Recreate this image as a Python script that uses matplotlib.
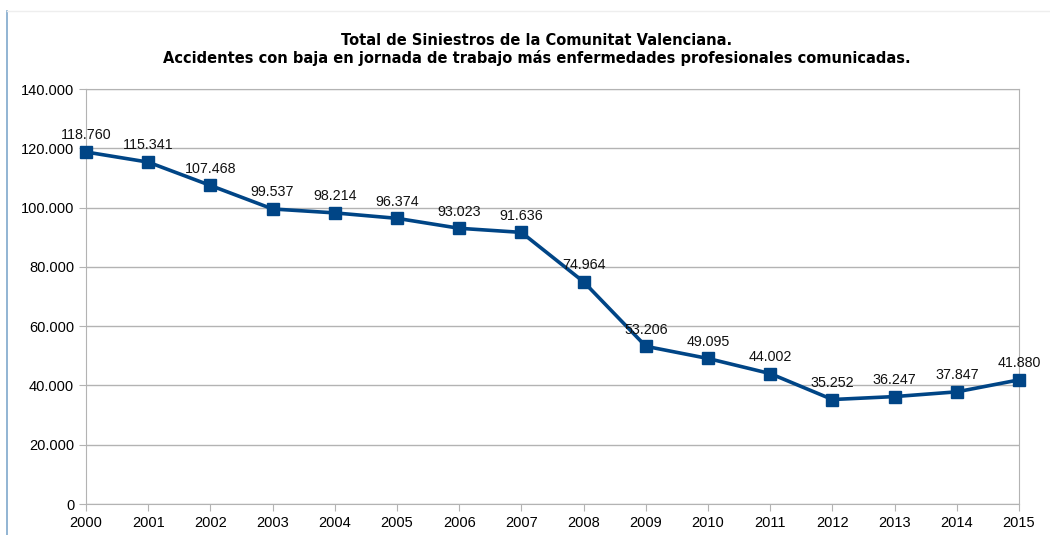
import matplotlib.pyplot as plt
from matplotlib.ticker import FuncFormatter
from matplotlib.lines import Line2D

years = [2000, 2001, 2002, 2003, 2004, 2005, 2006, 2007,
         2008, 2009, 2010, 2011, 2012, 2013, 2014, 2015]
siniestros = [118760, 115341, 107468, 99537, 98214, 96374, 93023, 91636,
              74964, 53206, 49095, 44002, 35252, 36247, 37847, 41880]

title = ("Total de Siniestros de la Comunitat Valenciana.\n"
         "Accidentes con baja en jornada de trabajo más enfermedades profesionales comunicadas.")


def miles(v, pos=None):
    # formato espanol: punto como separador de miles
    return "{:,.0f}".format(v).replace(",", ".")


plt.rcParams['font.family'] = ['Liberation Sans', 'DejaVu Sans']

fig = plt.figure(figsize=(10.5, 5.35), dpi=100)
ax = fig.add_axes([0.0819, 0.0579, 0.8886, 0.7757])

ax.plot(years, siniestros, color='#004586', linewidth=2.6,
        marker='s', markersize=8, zorder=3, clip_on=False)

for x, y in zip(years, siniestros):
    ax.annotate(miles(y), (x, y), textcoords='offset points', xytext=(0, 7),
                ha='center', va='bottom', fontsize=10.3, color='#111111', zorder=4)

ax.set_xlim(2000, 2015)
ax.set_ylim(0, 140000)
ax.set_xticks(years)
ax.set_yticks(range(0, 140001, 20000))
ax.yaxis.set_major_formatter(FuncFormatter(miles))
ax.grid(axis='y', color='#b3b3b3', linewidth=1)
ax.set_axisbelow(True)
for s in ['left', 'right', 'bottom', 'top']:
    ax.spines[s].set_color('#b3b3b3')
ax.tick_params(axis='both', colors='#b3b3b3', labelcolor='black',
               labelsize=10.5, length=5, direction='out')

# el titulo original tiene letras muy espaciadas, DejaVu Bold se acerca mas
fig.text(0.511, 0.9075, title, ha='center', va='center', fontsize=10.5,
         fontweight='bold', linespacing=1.2, family='DejaVu Sans')

# marco del grafico
fig.add_artist(Line2D([0.0067, 0.0067], [0, 0.98], color='#7fa8cc', linewidth=1.2))
fig.add_artist(Line2D([0.0067, 1.0], [0.98, 0.98], color='#eeeeee', linewidth=1))

fig.savefig('out.png', dpi=100)
